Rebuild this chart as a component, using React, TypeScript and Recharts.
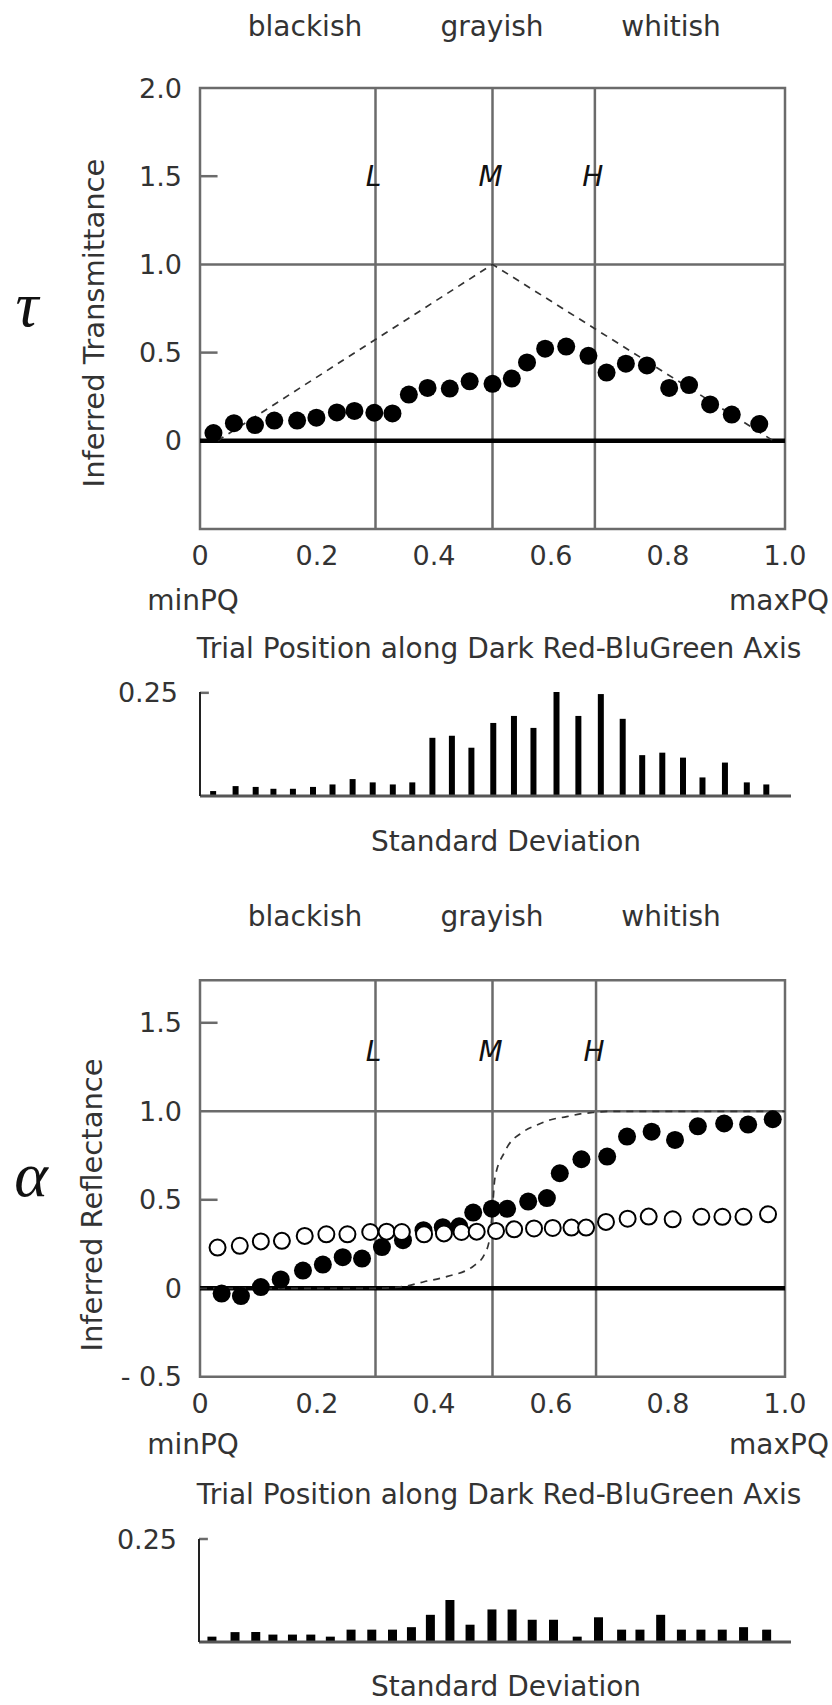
import React from 'react';
import {
  ComposedChart, Scatter, Line, XAxis, YAxis, ReferenceLine, ReferenceArea, ReferenceDot,
  BarChart, Bar,
} from 'recharts';

const FONT = '"DejaVu Sans", sans-serif';
const GRID = '#6b6b6b';
const TEXT = '#333';

// x axis of both panels: trial position between minPQ and maxPQ
const xTicks = [0, 0.2, 0.4, 0.6, 0.8, 1];
const markerNames = ['L', 'M', 'H'];
const zoneNames = ['blackish', 'grayish', 'whitish'];

// transmittance panel
const transX = [0.023, 0.058, 0.094, 0.127, 0.166, 0.199, 0.234, 0.264, 0.298, 0.329, 0.357, 0.389, 0.427, 0.461, 0.5, 0.533, 0.559, 0.59, 0.626, 0.664, 0.695, 0.728, 0.764, 0.802, 0.836, 0.872, 0.909, 0.956];
const transY = [0.044, 0.1, 0.089, 0.115, 0.115, 0.131, 0.161, 0.169, 0.159, 0.155, 0.262, 0.3, 0.296, 0.337, 0.323, 0.353, 0.444, 0.522, 0.534, 0.482, 0.387, 0.437, 0.427, 0.3, 0.316, 0.206, 0.149, 0.095];
const transTargetX = [0.03, 0.5, 0.98];
const transTargetY = [0, 1, 0];
const transMarkers = [0.3, 0.5, 0.675];
const transYTicks = [0, 0.5, 1, 1.5, 2];

const sdTransX = [0.022, 0.06, 0.094, 0.124, 0.157, 0.191, 0.224, 0.258, 0.292, 0.326, 0.359, 0.393, 0.426, 0.459, 0.496, 0.531, 0.564, 0.603, 0.64, 0.678, 0.715, 0.748, 0.782, 0.817, 0.85, 0.888, 0.925, 0.958];
const sdTrans = [0.012, 0.024, 0.022, 0.0175, 0.0175, 0.022, 0.028, 0.041, 0.033, 0.028, 0.033, 0.141, 0.146, 0.117, 0.177, 0.194, 0.165, 0.252, 0.194, 0.247, 0.187, 0.099, 0.105, 0.093, 0.045, 0.081, 0.033, 0.028];

// reflectance panel
const reflX = [0.037, 0.07, 0.104, 0.138, 0.176, 0.21, 0.244, 0.277, 0.311, 0.347, 0.382, 0.415, 0.443, 0.467, 0.499, 0.525, 0.561, 0.593, 0.615, 0.652, 0.696, 0.73, 0.772, 0.812, 0.851, 0.896, 0.937, 0.979];
const reflY = [-0.03, -0.044, 0.007, 0.05, 0.1, 0.134, 0.176, 0.168, 0.233, 0.272, 0.328, 0.345, 0.35, 0.428, 0.45, 0.449, 0.49, 0.51, 0.65, 0.729, 0.744, 0.857, 0.885, 0.838, 0.915, 0.931, 0.925, 0.955];
const reflOpenX = [0.03, 0.068, 0.104, 0.14, 0.179, 0.216, 0.252, 0.291, 0.319, 0.345, 0.383, 0.417, 0.447, 0.473, 0.506, 0.537, 0.571, 0.603, 0.635, 0.66, 0.694, 0.731, 0.767, 0.808, 0.857, 0.893, 0.929, 0.971];
const reflOpenY = [0.23, 0.24, 0.265, 0.268, 0.296, 0.305, 0.305, 0.318, 0.32, 0.318, 0.305, 0.31, 0.318, 0.32, 0.324, 0.333, 0.338, 0.341, 0.343, 0.343, 0.375, 0.393, 0.405, 0.39, 0.404, 0.404, 0.404, 0.418];
const reflTargetX = [0, 0.3, 0.349, 0.383, 0.423, 0.468, 0.486, 0.495, 0.5, 0.504, 0.521, 0.553, 0.576, 0.598, 0.627, 0.65, 0.672, 0.7, 1];
const reflTargetY = [0, 0, 0.011, 0.037, 0.067, 0.127, 0.19, 0.28, 0.45, 0.62, 0.772, 0.885, 0.923, 0.951, 0.97, 0.985, 0.993, 1, 1];
const reflMarkers = [0.3, 0.5, 0.677];
const reflYTicks = [-0.5, 0, 0.5, 1, 1.5];

const sdReflX = [0.022, 0.061, 0.096, 0.125, 0.158, 0.189, 0.222, 0.257, 0.292, 0.327, 0.359, 0.391, 0.424, 0.458, 0.495, 0.529, 0.563, 0.599, 0.639, 0.675, 0.714, 0.745, 0.78, 0.815, 0.848, 0.884, 0.92, 0.959];
const sdRefl = [0.013, 0.024, 0.024, 0.018, 0.018, 0.018, 0.013, 0.03, 0.03, 0.03, 0.036, 0.066, 0.102, 0.042, 0.079, 0.079, 0.054, 0.054, 0.013, 0.06, 0.03, 0.03, 0.066, 0.03, 0.03, 0.03, 0.036, 0.03];

type Pt = { x: number; y: number };
const zip = (xs: number[], ys: number[]): Pt[] => xs.map((x, i) => ({ x, y: ys[i] }));

const fmt = (v: number) => (v === 0 ? '0' : v < 0 ? `- ${Math.abs(v).toFixed(1)}` : v.toFixed(1));
const TICK = { fontSize: 27, fill: TEXT, fontFamily: FONT };

const LetterLabel = ({ viewBox, text }: any) => {
  const cx = viewBox.x + (viewBox.width || 0) / 2;
  const cy = viewBox.y + (viewBox.height || 0) / 2;
  return (
    <text x={cx - 2} y={cy} textAnchor="middle" dominantBaseline="central" fontSize={28}
      fontStyle="italic" fontFamily={FONT} fill="#111">{text}</text>
  );
};

const FilledDot = (p: any) => <circle cx={p.cx} cy={p.cy} r={9} fill="#000" />;
const OpenDot = (p: any) => <circle cx={p.cx} cy={p.cy} r={8} fill="#fff" stroke="#000" strokeWidth={2} />;

interface PanelProps {
  top: number; height: number; plotTop: number; plotBottom: number;
  yMin: number; yMax: number; yTicks: number[]; markers: number[]; letterY: number;
  filled: Pt[]; open?: Pt[]; target: Pt[]; curve: 'linear' | 'monotone';
}

const Panel = ({ top, height, plotTop, plotBottom, yMin, yMax, yTicks, markers, letterY, filled, open, target, curve }: PanelProps) => {
  const margin = { top: plotTop - top, right: 47, bottom: top + height - plotBottom - 40, left: 100 };
  return (
    <div style={{ position: 'absolute', left: 0, top }}>
      <ComposedChart width={832} height={height} margin={margin}>
        <XAxis type="number" dataKey="x" domain={[0, 1]} ticks={xTicks} tickFormatter={fmt} height={40}
          tickSize={0} tickMargin={17} axisLine={false} tickLine={false} tick={TICK} allowDataOverflow />
        <YAxis type="number" dataKey="y" domain={[yMin, yMax]} ticks={yTicks} tickFormatter={fmt} width={100}
          tickSize={0} tickMargin={18} axisLine={false} tickLine={false} tick={TICK} allowDataOverflow />
        <ReferenceArea x1={0} x2={1} y1={yMin} y2={yMax} fill="none" stroke={GRID} strokeWidth={2.5} />
        <ReferenceLine y={1} stroke={GRID} strokeWidth={2.5} />
        {markers.map((m) => <ReferenceLine key={m} x={m} stroke={GRID} strokeWidth={2.5} />)}
        {[0.5, 1.5].map((t) => (
          <ReferenceLine key={t} segment={[{ x: 0, y: t }, { x: 0.03, y: t }]} stroke={GRID} strokeWidth={2.5} />
        ))}
        <ReferenceLine y={0} stroke="#000" strokeWidth={4.5} />
        {markers.map((m, i) => (
          <ReferenceDot key={markerNames[i]} x={m} y={letterY} r={0} fill="none" stroke="none"
            label={<LetterLabel text={markerNames[i]} />} />
        ))}
        <Line data={target} dataKey="y" type={curve} stroke="#333" strokeWidth={1.7}
          strokeDasharray="7 6" dot={false} isAnimationActive={false} />
        <Scatter data={filled} dataKey="y" shape={FilledDot} isAnimationActive={false} />
        {open && <Scatter data={open} dataKey="y" shape={OpenDot} isAnimationActive={false} />}
      </ComposedChart>
    </div>
  );
};

interface SdProps { top: number; height: number; plotTop: number; baseline: number; left: number; data: Pt[]; barSize: number }

const SdBars = ({ top, height, plotTop, baseline, left, data, barSize }: SdProps) => (
  <div style={{ position: 'absolute', left: 0, top }}>
    <BarChart width={832} height={height} data={data}
      margin={{ top: plotTop - top, right: 41, bottom: top + height - baseline, left: left - 60 }}>
      <XAxis type="number" dataKey="x" domain={[0, 1]} hide allowDataOverflow />
      <YAxis type="number" domain={[0, 0.25]} ticks={[0.25]} tickFormatter={() => '0.25'} width={60}
        tickSize={0} tickMargin={22} axisLine={{ stroke: '#222', strokeWidth: 2 }} tickLine={false} tick={TICK} />
      <ReferenceLine segment={[{ x: 0, y: 0.25 }, { x: 0.015, y: 0.25 }]} stroke={GRID} strokeWidth={2.5} />
      <Bar dataKey="y" fill="#000" barSize={barSize} isAnimationActive={false} />
      <ReferenceLine y={0} stroke="#555" strokeWidth={3} />
    </BarChart>
  </div>
);

const Txt = ({ x, y, children, size = 28 }: any) => (
  <text x={x} y={y} textAnchor="middle" dominantBaseline="central" fontSize={size} fontFamily={FONT} fill={TEXT}>{children}</text>
);

const zoneX = [305, 492, 671];
const SERIF = '"Liberation Serif", "DejaVu Serif", serif';

export default function App() {
  return (
    <div style={{ position: 'relative', width: 832, height: 1705, background: '#fff' }}>
      <style>{'body{margin:0}'}</style>
      <Panel top={0} height={580} plotTop={88} plotBottom={529} yMin={-0.5} yMax={2} yTicks={transYTicks}
        markers={transMarkers} letterY={1.5} filled={zip(transX, transY)} target={zip(transTargetX, transTargetY)}
        curve="linear" />
      <SdBars top={670} height={140} plotTop={692} baseline={796} left={200} data={zip(sdTransX, sdTrans)} barSize={6} />
      <Panel top={900} height={540} plotTop={980.3} plotBottom={1376.8} yMin={-0.5} yMax={1.74} yTicks={reflYTicks}
        markers={reflMarkers} letterY={1.337} filled={zip(reflX, reflY)} open={zip(reflOpenX, reflOpenY)}
        target={zip(reflTargetX, reflTargetY)} curve="monotone" />
      <SdBars top={1520} height={140} plotTop={1539} baseline={1642} left={199} data={zip(sdReflX, sdRefl)} barSize={9} />
      <svg width={832} height={1705} style={{ position: 'absolute', left: 0, top: 0, pointerEvents: 'none' }}>
        {zoneNames.map((z, i) => <Txt key={'a' + z} x={zoneX[i]} y={26}>{z}</Txt>)}
        {zoneNames.map((z, i) => <Txt key={'b' + z} x={zoneX[i]} y={916}>{z}</Txt>)}
        <text x={27} y={304} textAnchor="middle" dominantBaseline="central" fontSize={64} fontStyle="italic"
          fontFamily={SERIF} fill="#111">τ</text>
        <text x={31} y={1174} textAnchor="middle" dominantBaseline="central" fontSize={64} fontStyle="italic"
          fontFamily={SERIF} fill="#111">α</text>
        <text transform="translate(94,323) rotate(-90)" textAnchor="middle" dominantBaseline="central"
          fontSize={29} fontFamily={FONT} fill={TEXT}>Inferred Transmittance</text>
        <text transform="translate(92,1205) rotate(-90)" textAnchor="middle" dominantBaseline="central"
          fontSize={29} fontFamily={FONT} fill={TEXT}>Inferred Reflectance</text>
        <Txt x={193} y={600}>minPQ</Txt>
        <Txt x={779} y={600}>maxPQ</Txt>
        <Txt x={499} y={648}>Trial Position along Dark Red-BluGreen Axis</Txt>
        <Txt x={506} y={841}>Standard Deviation</Txt>
        <Txt x={193} y={1444}>minPQ</Txt>
        <Txt x={779} y={1444}>maxPQ</Txt>
        <Txt x={499} y={1494}>Trial Position along Dark Red-BluGreen Axis</Txt>
        <Txt x={506} y={1686}>Standard Deviation</Txt>
      </svg>
    </div>
  );
}
